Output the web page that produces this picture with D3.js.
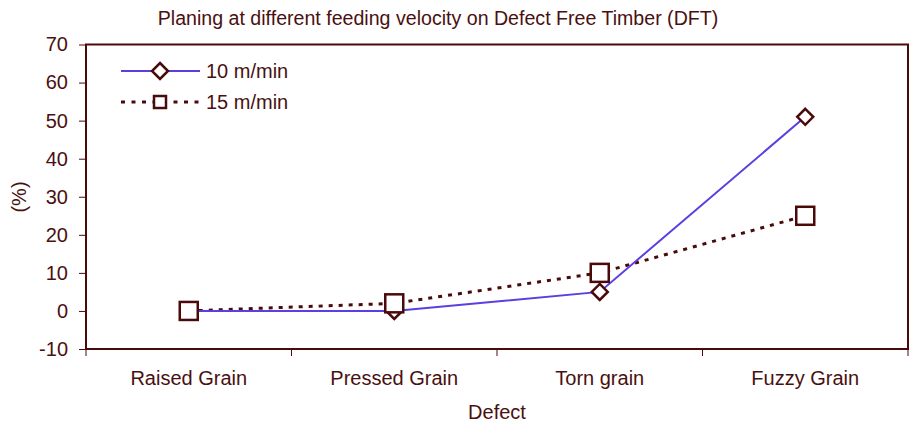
<!DOCTYPE html>
<html>
<head>
<meta charset="utf-8">
<script src="https://cdn.jsdelivr.net/npm/d3@7"></script>
<style>
  body { margin: 0; background: #fff; }
  text { font-family: "Liberation Sans", Arial, sans-serif; fill: #4a1010; }
</style>
</head>
<body>
<svg id="chart" width="911" height="425"></svg>
<script>
const categories = ['Raised Grain', 'Pressed Grain', 'Torn grain', 'Fuzzy Grain'];
const v10 = [0, 0, 5, 51];
const v15 = [0, 2, 10, 25];
const yTicks = [-10, 0, 10, 20, 30, 40, 50, 60, 70];

const dark = '#4a0a0a';
const blue = '#5b3fe0';
const margin = { left: 86, top: 44.5, right: 908, bottom: 349 };

const svg = d3.select('#chart');

const x = d3.scaleBand().domain(categories).range([margin.left, margin.right]);
const y = d3.scaleLinear().domain([-10, 70]).range([margin.bottom, margin.top]);

// frame
svg.append('rect')
  .attr('x', margin.left).attr('y', margin.top)
  .attr('width', margin.right - margin.left).attr('height', margin.bottom - margin.top)
  .attr('fill', 'none').attr('stroke', dark).attr('stroke-width', 2);

// y axis (plain hyphen for negatives, like the original)
const yAxis = svg.append('g').attr('transform', `translate(${margin.left},0)`)
  .call(d3.axisLeft(y).tickValues(yTicks).tickFormat(d => String(d)).tickSize(7).tickPadding(11));
yAxis.select('.domain').remove();
yAxis.selectAll('line').attr('stroke', dark);
yAxis.selectAll('text').style('font-size', '20px').attr('fill', '#4a1010')
  .style('font-family', '"Liberation Sans", Arial, sans-serif');

// x axis ticks at band boundaries
const bounds = categories.map(c => x(c)).concat([margin.right]);
svg.selectAll('line.xt').data(bounds).enter().append('line')
  .attr('x1', d => d).attr('x2', d => d)
  .attr('y1', margin.bottom).attr('y2', margin.bottom + 7)
  .attr('stroke', dark).attr('stroke-width', 1);

svg.selectAll('text.xl').data(categories).enter().append('text')
  .attr('x', d => x(d) + x.bandwidth() / 2).attr('y', 385)
  .attr('text-anchor', 'middle').style('font-size', '20px')
  .text(d => d);

// titles
svg.append('text').attr('x', 438).attr('y', 25).attr('text-anchor', 'middle')
  .style('font-size', '19.6px').text('Planing at different feeding velocity on Defect Free Timber (DFT)');
svg.append('text').attr('x', 497).attr('y', 419).attr('text-anchor', 'middle')
  .style('font-size', '20px').text('Defect');
svg.append('text').attr('transform', 'translate(26,197) rotate(-90)')
  .attr('text-anchor', 'middle').style('font-size', '20px').text('(%)');

const cx = d => x(d) + x.bandwidth() / 2;
const line = vals => d3.line().x((d, i) => cx(categories[i])).y(d => y(d))(vals);

svg.append('path').attr('d', line(v15)).attr('fill', 'none')
  .attr('stroke', dark).attr('stroke-width', 3).attr('stroke-dasharray', '4,6');
svg.append('path').attr('d', line(v10)).attr('fill', 'none')
  .attr('stroke', blue).attr('stroke-width', 2);

function square(g, px, py) {
  g.append('rect').attr('x', px - 9).attr('y', py - 9).attr('width', 18).attr('height', 18)
    .attr('fill', '#fff').attr('stroke', dark).attr('stroke-width', 2.5);
}
function diamond(g, px, py) {
  const r = 8;
  g.append('path').attr('d', `M${px},${py - r}L${px + r},${py}L${px},${py + r}L${px - r},${py}Z`)
    .attr('fill', '#fff').attr('stroke', dark).attr('stroke-width', 2.5);
}

v10.forEach((v, i) => diamond(svg, cx(categories[i]), y(v)));
v15.forEach((v, i) => square(svg, cx(categories[i]), y(v)));

// legend
svg.append('line').attr('x1', 121).attr('x2', 200).attr('y1', 71).attr('y2', 71)
  .attr('stroke', blue).attr('stroke-width', 2);
diamond(svg, 160, 71);
svg.append('text').attr('x', 206).attr('y', 78).style('font-size', '20px').text('10 m/min');

svg.append('line').attr('x1', 121).attr('x2', 200).attr('y1', 102).attr('y2', 102)
  .attr('stroke', dark).attr('stroke-width', 3).attr('stroke-dasharray', '4,6.5');
svg.append('rect').attr('x', 154).attr('y', 96).attr('width', 12).attr('height', 12)
  .attr('fill', '#fff').attr('stroke', dark).attr('stroke-width', 2.5);
svg.append('text').attr('x', 206).attr('y', 109).style('font-size', '20px').text('15 m/min');
</script>
</body>
</html>
